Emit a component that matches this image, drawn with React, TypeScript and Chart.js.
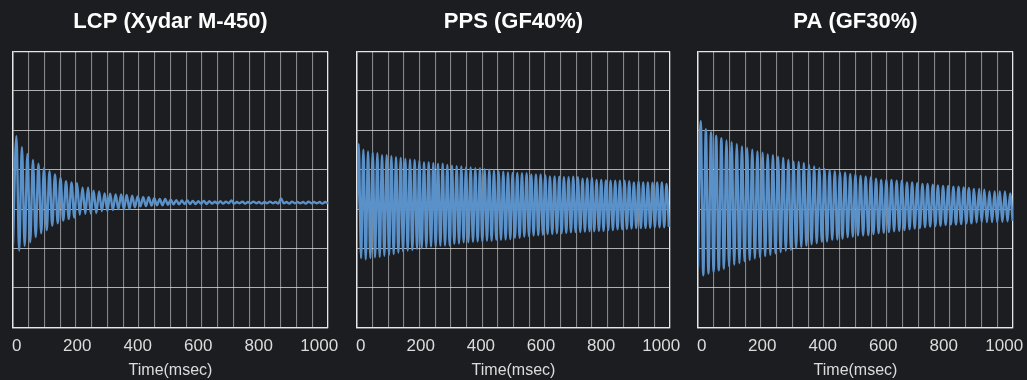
import React, { useEffect, useRef } from "react";
import { Chart, registerables } from "chart.js";

Chart.register(...registerables);

// ---------- data ----------
const PANEL_TITLES = ["LCP (Xydar M-450)", "PPS (GF40%)", "PA (GF30%)"];
const X_AXIS_TITLE = "Time(msec)";
const TIME_TICKS = [0, 200, 400, 600, 800, 1000];

// LCP (Xydar M-450): value at t=0, time of first crest, oscillation period (ms)
const LCP_START_VALUE = -0.9;
const LCP_FIRST_PEAK_MS = 10.8;
const LCP_PERIOD_MS = 17.5;
const LCP_PEAKS = [
  1.85, 1.57, 1.4, 1.25, 1.15, 1.04, 0.96, 0.88, 0.79, 0.71,
  0.68, 0.66, 0.55, 0.55, 0.47, 0.45, 0.4, 0.39, 0.37, 0.37,
  0.36, 0.34, 0.32, 0.3, 0.3, 0.28, 0.26, 0.26, 0.24, 0.23,
  0.22, 0.22, 0.21, 0.2, 0.21, 0.2, 0.19, 0.2, 0.19, 0.22,
  0.18, 0.19, 0.18, 0.19, 0.18, 0.18, 0.19, 0.18, 0.27, 0.18,
  0.19, 0.18, 0.18, 0.19, 0.18, 0.18, 0.18,
];
const LCP_TROUGHS = [
  -1.05, -0.93, -0.84, -0.71, -0.61, -0.53, -0.42, -0.36, -0.29, -0.25,
  -0.21, -0.14, -0.12, -0.11, -0.1, -0.05, -0.04, -0.02, 0.0, 0.0,
  0.01, 0.05, 0.07, 0.08, 0.09, 0.1, 0.1, 0.11, 0.12, 0.12,
  0.13, 0.13, 0.13, 0.14, 0.13, 0.14, 0.14, 0.14, 0.15, 0.14,
  0.15, 0.14, 0.15, 0.15, 0.14, 0.15, 0.15, 0.14, 0.15, 0.14,
  0.15, 0.15, 0.14, 0.15, 0.15, 0.14, 0.15,
];

// PPS (GF40%)
const PPS_START_VALUE = 0.0;
const PPS_FIRST_PEAK_MS = 5.5;
const PPS_PERIOD_MS = 14.9;
const PPS_PEAKS = [
  1.65, 1.51, 1.46, 1.43, 1.42, 1.37, 1.37, 1.34, 1.32, 1.3,
  1.27, 1.26, 1.25, 1.23, 1.19, 1.19, 1.17, 1.15, 1.15, 1.12,
  1.1, 1.09, 1.08, 1.06, 1.06, 1.04, 1.04, 1.01, 1.0, 0.98,
  0.96, 0.95, 0.93, 0.92, 0.92, 0.91, 0.91, 0.88, 0.88, 0.88,
  0.86, 0.83, 0.83, 0.82, 0.81, 0.81, 0.82, 0.81, 0.77, 0.78,
  0.79, 0.74, 0.74, 0.73, 0.72, 0.72, 0.72, 0.72, 0.71, 0.68,
  0.7, 0.68, 0.68, 0.67, 0.68, 0.68, 0.64,
];
const PPS_TROUGHS = [
  -1.24, -1.27, -1.24, -1.22, -1.21, -1.18, -1.16, -1.14, -1.1, -1.07,
  -1.05, -1.04, -1.01, -0.99, -0.97, -0.95, -0.95, -0.93, -0.92, -0.92,
  -0.88, -0.87, -0.84, -0.84, -0.83, -0.82, -0.82, -0.8, -0.8, -0.78,
  -0.78, -0.77, -0.76, -0.73, -0.73, -0.7, -0.68, -0.67, -0.66, -0.65,
  -0.63, -0.63, -0.61, -0.61, -0.6, -0.59, -0.58, -0.58, -0.57, -0.56,
  -0.56, -0.55, -0.55, -0.53, -0.53, -0.51, -0.51, -0.5, -0.49, -0.48,
  -0.48, -0.48, -0.47, -0.46, -0.46, -0.46, -0.45,
];

// PA (GF30%)
const PA_START_VALUE = -1.48;
const PA_FIRST_PEAK_MS = 8.6;
const PA_PERIOD_MS = 16.37;
const PA_PEAKS = [
  2.23, 2.03, 1.95, 1.86, 1.8, 1.74, 1.7, 1.65, 1.59, 1.55,
  1.51, 1.46, 1.43, 1.39, 1.37, 1.33, 1.3, 1.25, 1.21, 1.2,
  1.17, 1.12, 1.08, 1.04, 1.02, 0.99, 0.96, 0.93, 0.93, 0.89,
  0.88, 0.85, 0.83, 0.81, 0.77, 0.74, 0.74, 0.74, 0.72, 0.72,
  0.68, 0.68, 0.66, 0.64, 0.64, 0.62, 0.6, 0.59, 0.59, 0.57,
  0.57, 0.55, 0.54, 0.51, 0.51, 0.49, 0.45, 0.45, 0.45, 0.45,
  0.4,
];
const PA_TROUGHS = [
  -1.68, -1.63, -1.59, -1.55, -1.51, -1.45, -1.41, -1.37, -1.32, -1.29,
  -1.25, -1.22, -1.19, -1.16, -1.12, -1.09, -1.05, -1.03, -0.99, -0.96,
  -0.93, -0.89, -0.86, -0.83, -0.82, -0.78, -0.77, -0.75, -0.71, -0.7,
  -0.67, -0.67, -0.66, -0.63, -0.61, -0.6, -0.58, -0.56, -0.55, -0.53,
  -0.51, -0.49, -0.48, -0.46, -0.44, -0.43, -0.42, -0.4, -0.39, -0.39,
  -0.38, -0.36, -0.36, -0.34, -0.33, -0.33, -0.33, -0.33, -0.32, -0.31,
  -0.3,
];

// ---------- styling ----------
const BG = "#1c1d21";
const LINE_COLOR = "#5b91c9";
const GRID_V = "rgba(205,205,205,0.6)";
const GRID_H = "rgba(225,225,225,0.75)";
const EDGE = "#e6e6e6";
const TEXT = "#dcdcdc";
const FONT = "Arial, 'Liberation Sans', sans-serif";

const X_MIN = 0;
const X_MAX = 1000;
const X_GRID_STEP = 50;
const LABEL_AXIS_MIN = -12;
const LABEL_AXIS_MAX = 1029;
const Y_MIN = -3;
const Y_MAX = 4;

type Pt = { x: number; y: number };

function buildSeries(
  startValue: number,
  firstPeak: number,
  period: number,
  peaks: number[],
  troughs: number[]
): Pt[] {
  const pts: Pt[] = [{ x: 0, y: startValue }];
  for (let i = 0; i < peaks.length; i++) {
    const t = firstPeak + i * period;
    pts.push({ x: t, y: peaks[i] });
    if (i < troughs.length) pts.push({ x: t + period / 2, y: troughs[i] });
  }
  return pts;
}

function Panel(props: {
  title: string;
  data: Pt[];
  left: number;
  width: number;
  padL: number;
  padR: number;
}) {
  const ref = useRef<HTMLCanvasElement | null>(null);
  useEffect(() => {
    if (!ref.current) return;
    const chart = new Chart(ref.current, {
      type: "line",
      data: {
        datasets: [
          {
            data: props.data,
            borderColor: LINE_COLOR,
            borderWidth: 2.4,
            pointRadius: 0,
            cubicInterpolationMode: "monotone",
            fill: false,
          },
        ],
      },
      options: {
        animation: false,
        responsive: true,
        maintainAspectRatio: false,
        layout: { padding: { left: props.padL, right: props.padR, top: 0, bottom: 0 } },
        plugins: {
          legend: { display: false },
          tooltip: { enabled: false },
          title: {
            display: true,
            text: props.title,
            color: "#ffffff",
            font: { family: FONT, size: 22, weight: "bold" },
            padding: { top: 9, bottom: 16 },
          },
        },
        scales: {
          x: {
            type: "linear",
            position: "bottom",
            weight: 0,
            z: 1,
            min: X_MIN,
            max: X_MAX,
            ticks: { display: false, stepSize: X_GRID_STEP, maxTicksLimit: 100 },
            grid: {
              drawTicks: false,
              color: (ctx: any) =>
                ctx.tick && (ctx.tick.value === X_MAX || ctx.tick.value === X_MIN) ? EDGE : GRID_V,
              lineWidth: (ctx: any) =>
                ctx.tick && (ctx.tick.value === X_MAX || ctx.tick.value === X_MIN) ? 1.3 : 1.1,
            },
            border: { display: true, color: EDGE, width: 1.3 },
          },
          xl: {
            type: "linear",
            position: "bottom",
            weight: 1,
            min: LABEL_AXIS_MIN,
            max: LABEL_AXIS_MAX,
            afterBuildTicks: (scale: any) => {
              scale.ticks = TIME_TICKS.map((v) => ({ value: v }));
            },
            ticks: {
              color: TEXT,
              font: { family: FONT, size: 17, lineHeight: 2.02 },
              padding: 2,
              autoSkip: false,
              maxRotation: 0,
              callback: (v: any) => String(v),
            },
            grid: { display: false, drawTicks: false },
            border: { display: false },
            title: {
              display: true,
              text: X_AXIS_TITLE,
              color: TEXT,
              font: { family: FONT, size: 16 },
              padding: { top: -5, bottom: 0 },
            },
          },
          y: {
            type: "linear",
            position: "left",
            z: 1,
            min: Y_MIN,
            max: Y_MAX,
            ticks: { display: false, stepSize: 1 },
            grid: {
              drawTicks: false,
              color: (ctx: any) =>
                ctx.tick && (ctx.tick.value === Y_MAX || ctx.tick.value === Y_MIN) ? EDGE : GRID_H,
              lineWidth: (ctx: any) =>
                ctx.tick && (ctx.tick.value === Y_MAX || ctx.tick.value === Y_MIN) ? 1.3 : 1.1,
            },
            border: { display: true, color: EDGE, width: 1.3 },
          },
        },
      } as any,
    });
    return () => chart.destroy();
  }, []);
  return (
    <div
      style={{
        position: "absolute",
        left: props.left,
        top: 0,
        width: props.width,
        height: 380,
      }}
    >
      <canvas ref={ref} style={{ display: "block" }} />
    </div>
  );
}

export default function App() {
  const lcp = buildSeries(LCP_START_VALUE, LCP_FIRST_PEAK_MS, LCP_PERIOD_MS, LCP_PEAKS, LCP_TROUGHS);
  const pps = buildSeries(PPS_START_VALUE, PPS_FIRST_PEAK_MS, PPS_PERIOD_MS, PPS_PEAKS, PPS_TROUGHS);
  const pa = buildSeries(PA_START_VALUE, PA_FIRST_PEAK_MS, PA_PERIOD_MS, PA_PEAKS, PA_TROUGHS);
  return (
    <div
      style={{
        position: "fixed",
        left: 0,
        top: 0,
        width: 1027,
        height: 380,
        background: BG,
        overflow: "hidden",
      }}
    >
      <Panel title={PANEL_TITLES[0]} data={lcp} left={0} width={342} padL={13} padR={14} />
      <Panel title={PANEL_TITLES[1]} data={pps} left={342} width={342} padL={15} padR={14} />
      <Panel title={PANEL_TITLES[2]} data={pa} left={684} width={343} padL={14} padR={14} />
    </div>
  );
}
